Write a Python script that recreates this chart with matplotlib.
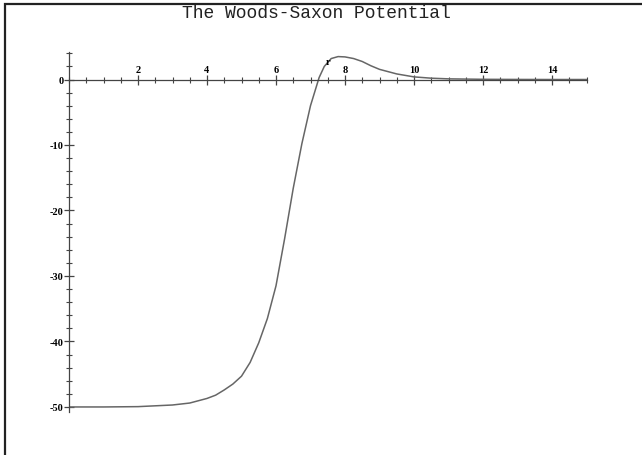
import matplotlib.pyplot as plt
from matplotlib.patches import Rectangle
from matplotlib.ticker import MultipleLocator, FixedLocator

# valores
raio = [0, 1, 2, 3, 3.5, 4, 4.25, 4.5, 4.75, 5, 5.25, 5.5, 5.75, 6, 6.25,
        6.5, 6.75, 7, 7.25, 7.4, 7.6, 7.8, 8.0, 8.25, 8.5, 8.75, 9, 9.5,
        10, 10.5, 11, 12, 13, 14, 15]
potencial = [-50.0, -50.0, -49.95, -49.7, -49.4, -48.7, -48.2, -47.4, -46.5,
             -45.3, -43.2, -40.2, -36.5, -31.5, -24.3, -16.6, -9.8, -4.0,
             0.3, 2.0, 3.2, 3.5, 3.45, 3.2, 2.75, 2.1, 1.55, 0.85, 0.4, 0.2,
             0.1, 0.03, 0.01, 0.0, 0.0]

ticks_x = [2, 4, 6, 8, 10, 12, 14]
ticks_y = [-50, -40, -30, -20, -10, 0]
titulo = "The Woods-Saxon Potential"

fig = plt.figure(figsize=(6.42, 4.56), dpi=100)
ax = fig.add_axes([69 / 642, 1 - 413.2 / 456, 517.5 / 642, 360.2 / 456])

ax.plot(raio, potencial, color="#666666", linewidth=1.1)
ax.set_xlim(0, 15)
ax.set_ylim(-50.8, 4.2)

cor_eixo = "#444444"
ax.spines["bottom"].set_visible(False)
ax.spines["right"].set_visible(False)
ax.spines["top"].set_position(("data", 0))
ax.spines["left"].set_position(("data", 0))
for s in ("top", "left"):
    ax.spines[s].set_color(cor_eixo)
    ax.spines[s].set_linewidth(0.9)

ax.xaxis.tick_top()
ax.xaxis.set_major_locator(FixedLocator(ticks_x))
ax.xaxis.set_minor_locator(MultipleLocator(0.5))
ax.yaxis.set_major_locator(FixedLocator(ticks_y))
ax.yaxis.set_minor_locator(MultipleLocator(2))

fonte = {"family": "Liberation Serif", "weight": "bold", "size": 7.5}
ax.set_xticklabels([str(t) for t in ticks_x], fontdict=fonte)
ax.set_yticklabels([str(t) for t in ticks_y], fontdict=fonte)

ax.tick_params(which="major", direction="inout", length=7, width=0.9,
               color=cor_eixo, pad=0.5)
ax.tick_params(which="minor", direction="inout", length=4.5, width=0.8,
               color=cor_eixo)

ax.text(7.5, 2.7, "r", fontdict=fonte, ha="center", va="center")

fig.text(316 / 642, 1 - 18 / 456, titulo, family="Liberation Mono",
         fontsize=13, color="#222222", ha="center", va="baseline")

fig.patches.append(Rectangle((5 / 642, -0.1), 1.2, 1.1 - 5 / 456,
                             transform=fig.transFigure, fill=False,
                             edgecolor="#222222", linewidth=1.6,
                             clip_on=False))

fig.savefig("out.png", dpi=100)
